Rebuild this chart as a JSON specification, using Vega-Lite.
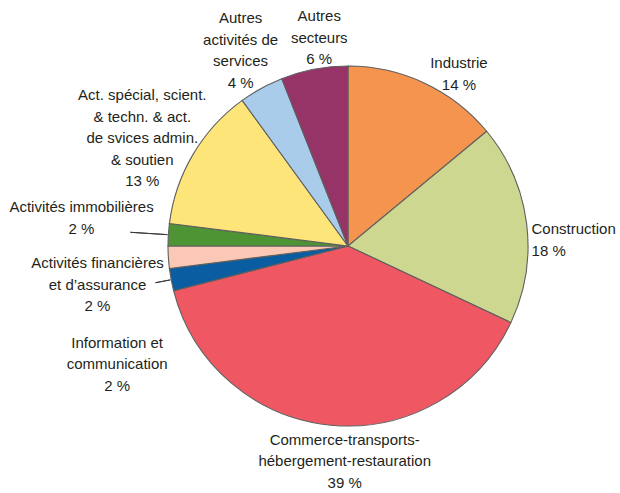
{
  "$schema": "https://vega.github.io/schema/vega-lite/v6.json",
  "width": 544,
  "height": 492,
  "autosize": {"type": "none"},
  "padding": {"left": 76, "top": 0, "right": 0, "bottom": 0},
  "background": "white",
  "config": {"view": {"stroke": null}},
  "data": {
    "values": [
      {"ordre": 1, "cat": "Industrie", "part": 14, "lab": "Industrie\n14 %"},
      {"ordre": 2, "cat": "Construction", "part": 18, "lab": "Construction\n18 %"},
      {"ordre": 3, "cat": "Commerce-transports-hébergement-restauration", "part": 39, "lab": "Commerce-transports-\nhébergement-restauration\n39 %"},
      {"ordre": 4, "cat": "Information et communication", "part": 2, "lab": "Information et\ncommunication\n2 %"},
      {"ordre": 5, "cat": "Activités financières et d’assurance", "part": 2, "lab": "Activités financières\net d’assurance\n2 %"},
      {"ordre": 6, "cat": "Activités immobilières", "part": 2, "lab": "Activités immobilières\n2 %"},
      {"ordre": 7, "cat": "Act. spécial, scient. & techn. & act. de svices admin. & soutien", "part": 13, "lab": "Act. spécial, scient.\n& techn. & act.\nde svices admin.\n& soutien\n13 %"},
      {"ordre": 8, "cat": "Autres activités de services", "part": 4, "lab": "Autres\nactivités de\nservices\n4 %"},
      {"ordre": 9, "cat": "Autres secteurs", "part": 6, "lab": "Autres\nsecteurs\n6 %"}
    ]
  },
  "encoding": {
    "theta": {"field": "part", "type": "quantitative", "stack": true},
    "order": {"field": "ordre", "type": "quantitative"},
    "detail": {"field": "cat", "type": "nominal"}
  },
  "layer": [
    {
      "mark": {"type": "arc", "radius": 180, "stroke": "#5f5f5f", "strokeWidth": 1.1},
      "encoding": {
        "color": {
          "field": "cat",
          "type": "nominal",
          "legend": null,
          "scale": {
            "domain": ["Industrie", "Construction", "Commerce-transports-hébergement-restauration", "Information et communication", "Activités financières et d’assurance", "Activités immobilières", "Act. spécial, scient. & techn. & act. de svices admin. & soutien", "Autres activités de services", "Autres secteurs"],
            "range": ["#f4944f", "#ced78f", "#ef5762", "#0a5da0", "#fac8b4", "#4e9435", "#fee57a", "#a9ccea", "#963468"]
          }
        }
      }
    },
    {
      "mark": {"type": "arc", "radius": 218, "radius2": 181, "padAngle": 1, "fill": null, "stroke": "#3a3a3a", "strokeWidth": 1},
      "encoding": {
        "strokeOpacity": {"condition": {"test": "datum.ordre === 6", "value": 1}, "value": 0}
      }
    },
    {
      "mark": {"type": "arc", "radius": 196, "radius2": 181, "padAngle": 1, "fill": null, "stroke": "#3a3a3a", "strokeWidth": 1},
      "encoding": {
        "strokeOpacity": {"condition": {"test": "datum.ordre === 4", "value": 1}, "value": 0}
      }
    },
    {
      "mark": {"type": "text", "radius": 190, "dx": 30, "dy": -10.75, "align": "center", "baseline": "middle", "lineBreak": "\n", "font": "Liberation Sans", "fontSize": 15, "lineHeight": 21.5, "fill": "#231f20"},
      "encoding": {"text": {"condition": {"test": "datum.ordre === 1", "field": "lab"}, "value": ""}}
    },
    {
      "mark": {"type": "text", "radius": 185, "dx": 0, "dy": 6.25, "align": "left", "baseline": "middle", "lineBreak": "\n", "font": "Liberation Sans", "fontSize": 15, "lineHeight": 21.5, "fill": "#231f20"},
      "encoding": {"text": {"condition": {"test": "datum.ordre === 2", "field": "lab"}, "value": ""}}
    },
    {
      "mark": {"type": "text", "radius": 216, "dx": 17, "dy": -21.5, "align": "center", "baseline": "middle", "lineBreak": "\n", "font": "Liberation Sans", "fontSize": 15, "lineHeight": 21.5, "fill": "#231f20"},
      "encoding": {"text": {"condition": {"test": "datum.ordre === 3", "field": "lab"}, "value": ""}}
    },
    {
      "mark": {"type": "text", "radius": 235, "dx": 0, "dy": 52.5, "align": "center", "baseline": "middle", "lineBreak": "\n", "font": "Liberation Sans", "fontSize": 15, "lineHeight": 21.5, "fill": "#231f20"},
      "encoding": {"text": {"condition": {"test": "datum.ordre === 4", "field": "lab"}, "value": ""}}
    },
    {
      "mark": {"type": "text", "radius": 251, "dx": 0, "dy": 1.5, "align": "center", "baseline": "middle", "lineBreak": "\n", "font": "Liberation Sans", "fontSize": 15, "lineHeight": 21.5, "fill": "#231f20"},
      "encoding": {"text": {"condition": {"test": "datum.ordre === 5", "field": "lab"}, "value": ""}}
    },
    {
      "mark": {"type": "text", "radius": 267, "dx": 0, "dy": -21.75, "align": "center", "baseline": "middle", "lineBreak": "\n", "font": "Liberation Sans", "fontSize": 15, "lineHeight": 21.5, "fill": "#231f20"},
      "encoding": {"text": {"condition": {"test": "datum.ordre === 6", "field": "lab"}, "value": ""}}
    },
    {
      "mark": {"type": "text", "radius": 239, "dx": 0, "dy": -29, "align": "center", "baseline": "middle", "lineBreak": "\n", "font": "Liberation Sans", "fontSize": 15, "lineHeight": 21.5, "fill": "#231f20"},
      "encoding": {"text": {"condition": {"test": "datum.ordre === 7", "field": "lab"}, "value": ""}}
    },
    {
      "mark": {"type": "text", "radius": 223, "dx": 0, "dy": -32.25, "align": "center", "baseline": "middle", "lineBreak": "\n", "font": "Liberation Sans", "fontSize": 15, "lineHeight": 21.5, "fill": "#231f20"},
      "encoding": {"text": {"condition": {"test": "datum.ordre === 8", "field": "lab"}, "value": ""}}
    },
    {
      "mark": {"type": "text", "radius": 212, "dx": 11, "dy": -21.5, "align": "center", "baseline": "middle", "lineBreak": "\n", "font": "Liberation Sans", "fontSize": 15, "lineHeight": 21.5, "fill": "#231f20"},
      "encoding": {"text": {"condition": {"test": "datum.ordre === 9", "field": "lab"}, "value": ""}}
    }
  ]
}
